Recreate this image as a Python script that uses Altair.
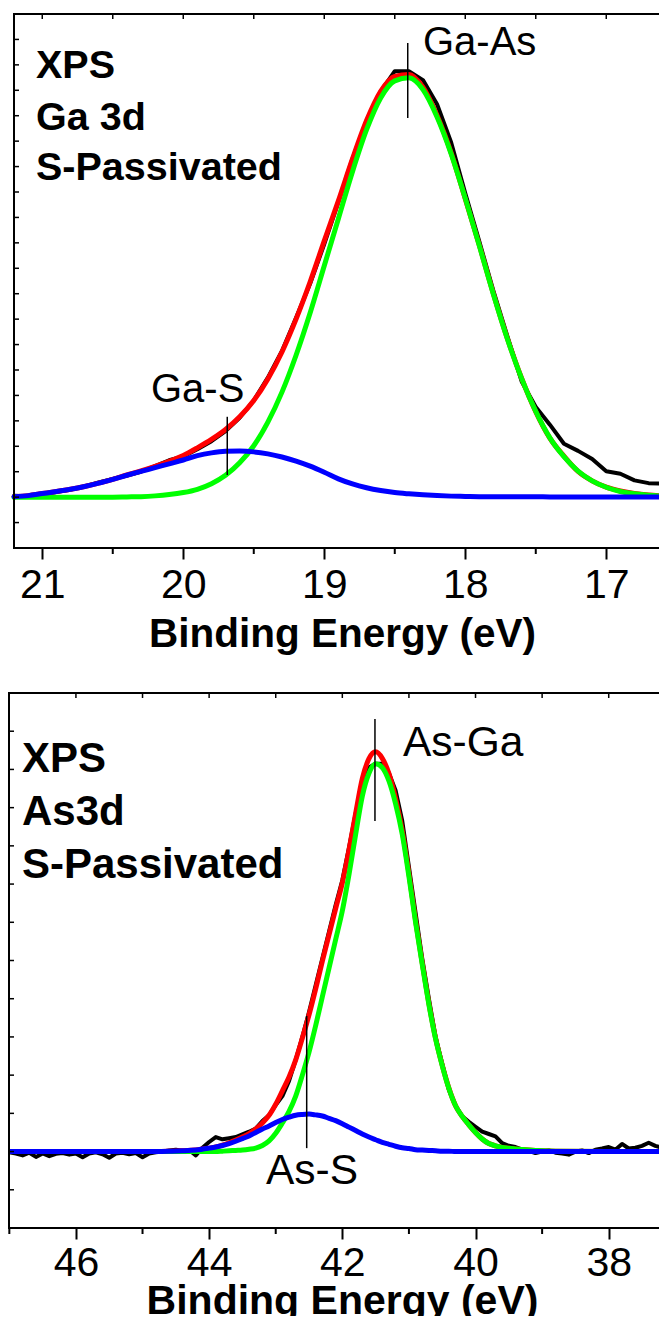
import altair as alt
import pandas as pd

FONT = "Liberation Sans"

# ---------------- Panel 1 : Ga 3d ----------------
ga_energy = [21.2, 21.1, 21.0, 20.9, 20.8, 20.7, 20.6, 20.5, 20.4, 20.3,
             20.2, 20.1, 20.0, 19.9, 19.8, 19.7, 19.6, 19.5, 19.4, 19.3,
             19.2, 19.1, 19.0, 18.9, 18.8, 18.7, 18.6, 18.5, 18.4, 18.3,
             18.2, 18.1, 18.0, 17.9, 17.8, 17.7, 17.6, 17.5, 17.4, 17.3,
             17.2, 17.1, 17.0, 16.9, 16.8, 16.7, 16.6, 16.5]
ga_data = [2.05, 2.04, 2.10, 2.20, 2.30, 2.42, 2.58, 2.72, 2.85, 3.00,
           3.22, 3.45, 3.60, 3.88, 4.20, 4.60, 5.12, 5.80, 6.70, 7.75,
           9.05, 10.40, 11.95, 13.60, 15.30, 16.80, 17.95, 18.75, 18.75, 18.40,
           17.45, 15.95, 13.95, 12.05, 10.10, 8.30, 6.55, 5.55, 4.85, 4.10,
           3.82, 3.50, 3.02, 2.92, 2.66, 2.55, 2.53, 2.52]
ga_envelope = [2.02, 2.06, 2.14, 2.22, 2.31, 2.42, 2.55, 2.70, 2.87, 3.03,
               3.21, 3.41, 3.64, 3.94, 4.27, 4.66, 5.16, 5.80, 6.65, 7.71,
               9.00, 10.47, 12.08, 13.65, 15.30, 16.81, 17.96, 18.55, 18.62, 18.12,
               17.01, 15.54, 13.73, 11.90, 9.99, 8.22, 6.67, 5.36, 4.32, 3.61,
               3.01, 2.64, 2.39, 2.24, 2.14, 2.08, 2.05, 2.03]
ga_gaas = [2.00, 2.00, 2.00, 2.00, 2.00, 2.00, 2.00, 2.00, 2.01, 2.02,
           2.05, 2.10, 2.18, 2.31, 2.53, 2.86, 3.35, 4.02, 4.95, 6.13,
           7.58, 9.25, 11.10, 12.95, 14.80, 16.45, 17.70, 18.37, 18.49, 18.03,
           16.95, 15.50, 13.75, 11.88, 9.97, 8.20, 6.66, 5.37, 4.33, 3.59,
           3.02, 2.64, 2.39, 2.22, 2.13, 2.07, 2.04, 2.02]
ga_gas = [2.02, 2.06, 2.14, 2.22, 2.31, 2.42, 2.55, 2.70, 2.86, 3.01,
          3.16, 3.31, 3.46, 3.63, 3.74, 3.80, 3.81, 3.78, 3.70, 3.58,
          3.42, 3.22, 2.98, 2.72, 2.52, 2.37, 2.26, 2.18, 2.13, 2.09,
          2.06, 2.04, 2.03, 2.02, 2.02, 2.02, 2.02, 2.02, 2.01, 2.01,
          2.01, 2.01, 2.01, 2.01, 2.01, 2.01, 2.01, 2.01]

# ---------------- Panel 2 : As 3d ----------------
as_fit_energy = [47.0, 46.0, 45.0, 44.6, 44.4, 44.2, 44.0, 43.9, 43.8, 43.7,
                 43.6, 43.5, 43.4, 43.3, 43.2, 43.1, 43.0, 42.9, 42.8, 42.7,
                 42.6, 42.5, 42.4, 42.3, 42.2, 42.1, 42.0, 41.9, 41.8, 41.7,
                 41.6, 41.5, 41.4, 41.3, 41.2, 41.1, 41.0, 40.9, 40.8, 40.7,
                 40.6, 40.5, 40.4, 40.3, 40.2, 40.1, 40.0, 39.9, 39.8, 39.7,
                 39.6, 39.5, 39.4, 39.2, 39.0, 38.8, 38.0, 37.1]
as_asga = [2.00, 2.00, 2.00, 2.00, 2.00, 2.00, 2.00, 2.00, 2.01, 2.02,
           2.03, 2.04, 2.06, 2.09, 2.16, 2.28, 2.48, 2.75, 3.05, 3.45,
           4.00, 4.60, 5.30, 6.05, 6.80, 7.55, 8.30, 9.25, 10.30, 11.30,
           11.90, 12.15, 12.05, 11.70, 11.10, 10.30, 9.20, 8.00, 6.90, 5.85,
           4.95, 4.25, 3.65, 3.20, 2.92, 2.70, 2.50, 2.33, 2.21, 2.15,
           2.11, 2.09, 2.07, 2.04, 2.02, 2.01, 2.00, 2.00]
as_ass = [2.00, 2.00, 2.00, 2.01, 2.02, 2.04, 2.09, 2.12, 2.16, 2.21,
          2.27, 2.34, 2.41, 2.50, 2.59, 2.67, 2.76, 2.84, 2.90, 2.95,
          2.97, 2.98, 2.96, 2.93, 2.87, 2.81, 2.73, 2.64, 2.55, 2.46,
          2.38, 2.31, 2.24, 2.19, 2.14, 2.10, 2.08, 2.05, 2.04, 2.03,
          2.02, 2.01, 2.01, 2.00, 2.00, 2.00, 2.00, 2.00, 2.00, 2.00,
          2.00, 2.00, 2.00, 2.00, 2.00, 2.00, 2.00, 2.00]
as_envelope = [2.00, 2.00, 2.00, 2.01, 2.02, 2.04, 2.09, 2.12, 2.17, 2.23,
               2.30, 2.38, 2.47, 2.59, 2.75, 2.95, 3.24, 3.59, 3.95, 4.40,
               4.97, 5.58, 6.26, 6.98, 7.67, 8.36, 9.03, 9.89, 10.85, 11.76,
               12.28, 12.46, 12.29, 11.89, 11.24, 10.40, 9.28, 8.05, 6.94, 5.88,
               4.97, 4.26, 3.66, 3.20, 2.92, 2.70, 2.50, 2.33, 2.21, 2.15,
               2.11, 2.09, 2.07, 2.04, 2.02, 2.01, 2.00, 2.00]
as_data_energy = [47.0, 46.9, 46.8, 46.7, 46.6, 46.5, 46.4, 46.3, 46.2, 46.1,
                  46.0, 45.9, 45.8, 45.7, 45.6, 45.5, 45.4, 45.3, 45.2, 45.1,
                  45.0, 44.9, 44.8, 44.7, 44.6, 44.5, 44.4, 44.3, 44.2, 44.1,
                  44.0, 43.9, 43.8, 43.7, 43.6, 43.5, 43.4, 43.3, 43.2, 43.1,
                  43.0, 42.9, 42.8, 42.7, 42.6, 42.5, 42.4, 42.3, 42.2, 42.1,
                  42.0, 41.9, 41.8, 41.7, 41.6, 41.5, 41.4, 41.3, 41.2, 41.1,
                  41.0, 40.9, 40.8, 40.7, 40.6, 40.5, 40.4, 40.3, 40.2, 40.1,
                  40.0, 39.9, 39.8, 39.7, 39.6, 39.5, 39.4, 39.3, 39.2, 39.1,
                  39.0, 38.9, 38.8, 38.7, 38.6, 38.5, 38.4, 38.3, 38.2, 38.1,
                  38.0, 37.9, 37.8, 37.7, 37.6, 37.5, 37.4, 37.3, 37.2, 37.1]
as_data = [1.98, 1.95, 1.90, 1.97, 1.86, 1.95, 1.88, 1.94, 1.96, 1.92,
           1.95, 1.85, 1.95, 1.98, 1.93, 1.84, 1.95, 1.97, 1.93, 1.96,
           1.85, 1.95, 1.98, 2.00, 2.03, 2.05, 2.02, 2.04, 1.90, 2.10,
           2.25, 2.38, 2.32, 2.35, 2.38, 2.45, 2.52, 2.60, 2.80, 2.95,
           3.22, 3.45, 3.85, 4.40, 5.00, 5.65, 6.35, 7.05, 7.75, 8.45,
           9.10, 9.95, 10.85, 11.60, 12.05, 12.15, 12.15, 11.90, 11.45, 10.65,
           9.45, 8.25, 7.05, 6.00, 5.00, 4.30, 3.62, 3.20, 2.92, 2.78,
           2.65, 2.52, 2.46, 2.40, 2.22, 2.15, 2.12, 2.05, 2.02, 1.96,
           2.00, 2.03, 1.97, 1.95, 1.92, 2.00, 2.03, 1.96, 2.05, 2.08,
           2.12, 2.05, 2.20, 2.08, 2.10, 2.15, 2.23, 2.15, 2.10, 2.08]

# ---------------- ticks ----------------
ga_x_ticks = [17, 18, 19, 20, 21]
ga_x_minor = [17.5, 18.5, 19.5, 20.5]
ga_top_ticks = [17, 17.5, 18, 18.5, 19, 19.5, 20, 20.5, 21]
ga_y_ticks = [1, 2, 3, 4, 5, 6, 7, 8, 9, 10, 11, 12, 13, 14, 15, 16, 17, 18, 19, 20]
as_x_ticks = [38, 40, 42, 44, 46]
as_x_minor = [39, 41, 43, 45, 47]
as_top_ticks = [38, 39, 40, 41, 42, 43, 44, 45, 46]
as_y_ticks = [1, 2, 3, 4, 5, 6, 7, 8, 9, 10, 11, 12, 13]

# ---------------- peak markers / labels ----------------
ga_peak_label = ["Ga-As", "Ga-S"]
ga_peak_pos = [18.408, 19.688]
ga_peak_lo = [16.91, 2.87]
ga_peak_hi = [19.86, 5.16]
ga_text_x = [18.30, 20.229]
ga_text_y = [19.39, 5.75]

as_peak_label = ["As-Ga", "As-S"]
as_peak_pos = [41.51, 42.535]
as_peak_lo = [10.65, 2.09]
as_peak_hi = [13.32, 5.55]
as_text_x = [41.09, 43.146]
as_text_y = [12.36, 1.15]

ga_notes = ["XPS", "Ga 3d", "S-Passivated"]
as_notes = ["XPS", "As3d", "S-Passivated"]

# the page adds an 8px margin on every side: a 651 x 1308 canvas fills 667 x 1324
PANEL_W = 651
SVG_H = 1308
PAD_TOP = 6


def panel(fit_e, envelope, main, minor_peak, data_e, data_v,
          xdom, ydom, W, H, xticks, xminor, topticks, yticks,
          plabel, ppos, plo, phi, tx, ty, notes, note_x, note_y,
          fs_label, fs_title, fs_note, fs_peak, frame_x, label_pad, title_pad):
    xs = alt.Scale(domain=xdom, reverse=True, nice=False, zero=False)
    ys = alt.Scale(domain=ydom, nice=False, zero=False)
    xaxis = alt.Axis(values=xticks, format="d", title="Binding Energy (eV)",
                     domain=False, grid=False, ticks=True, tickSize=11,
                     tickWidth=2, tickColor="black", labelFont=FONT,
                     labelFontSize=fs_label, labelColor="black",
                     labelPadding=label_pad, labelFlush=False, labelOverlap=False,
                     titleFont=FONT, titleFontSize=fs_title, titleFontWeight="bold",
                     titleColor="black", titlePadding=title_pad, titleX=334)

    def X(f):
        return alt.X(f, type="quantitative", scale=xs, axis=xaxis)

    def Y(f):
        return alt.Y(f, type="quantitative", scale=ys, axis=None)

    fits = pd.DataFrame({"E": fit_e, "env": envelope, "main": main, "minor": minor_peak})
    meas = pd.DataFrame({"E": data_e, "v": data_v})
    one = alt.Data(values=[{"k": 1}])

    layers = []
    layers.append(alt.Chart(meas).mark_line(color="black", strokeWidth=4, clip=True,
                                            strokeJoin="round", strokeCap="round")
                  .encode(x=X("E"), y=Y("v")))
    for col, colr, sw in [("env", "#ff0000", 5), ("main", "#00ff00", 5), ("minor", "#0000ff", 5)]:
        layers.append(alt.Chart(fits).mark_line(color=colr, strokeWidth=sw, clip=True,
                                                interpolate="monotone",
                                                strokeJoin="round", strokeCap="round")
                      .encode(x=X("E"), y=Y(col)))

    # frame (left, top, bottom; the right side lies outside the picture)
    layers.append(alt.Chart(one).mark_rule(color="black", strokeWidth=2)
                  .encode(x=alt.value(frame_x), y=alt.value(0), y2=alt.value(H)))
    layers.append(alt.Chart(one).mark_rule(color="black", strokeWidth=2)
                  .encode(x=alt.value(frame_x - 1), x2=alt.value(W), y=alt.value(0)))
    layers.append(alt.Chart(one).mark_rule(color="black", strokeWidth=2)
                  .encode(x=alt.value(frame_x - 1), x2=alt.value(W), y=alt.value(H)))

    # ticks
    layers.append(alt.Chart(pd.DataFrame({"t": xminor})).mark_rule(color="black", strokeWidth=2)
                  .encode(x=X("t"), y=alt.value(H), y2=alt.value(H + 6)))
    layers.append(alt.Chart(pd.DataFrame({"t": topticks})).mark_rule(color="black", strokeWidth=1.5)
                  .encode(x=X("t"), y=alt.value(0), y2=alt.value(5)))
    layers.append(alt.Chart(pd.DataFrame({"t": yticks})).mark_rule(color="black", strokeWidth=1.5)
                  .encode(y=Y("t"), x=alt.value(frame_x), x2=alt.value(frame_x + 5)))

    # peak markers and labels
    pk = pd.DataFrame({"label": plabel, "pos": ppos, "lo": plo, "hi": phi, "tx": tx, "ty": ty})
    layers.append(alt.Chart(pk).mark_rule(color="black", strokeWidth=1.5)
                  .encode(x=X("pos"), y=Y("lo"), y2=alt.Y2("hi")))
    layers.append(alt.Chart(pk).mark_text(font=FONT, fontSize=fs_peak, align="left",
                                          baseline="alphabetic", color="black")
                  .encode(x=X("tx"), y=Y("ty"), text="label:N"))

    # panel annotation
    for txt, yy in zip(notes, note_y):
        layers.append(alt.Chart(one).mark_text(font=FONT, fontSize=fs_note, fontWeight="bold",
                                               align="left", baseline="alphabetic",
                                               color="black", text=txt)
                      .encode(x=alt.value(note_x), y=alt.value(yy)))

    return alt.layer(*layers).properties(width=W, height=H)


top = panel(ga_energy, ga_envelope, ga_gaas, ga_gas, ga_energy, ga_data,
            [16.626, 21.243], [0, 21], PANEL_W, 534, ga_x_ticks, ga_x_minor, ga_top_ticks, ga_y_ticks,
            ga_peak_label, ga_peak_pos, ga_peak_lo, ga_peak_hi, ga_text_x, ga_text_y,
            ga_notes, 28, [64, 116, 166],
            41, 40.5, 39.5, 40, 6, 6, 9)

bottom = panel(as_fit_energy, as_envelope, as_asga, as_ass, as_data_energy, as_data,
               [37.245, 47.02], [0, 14], PANEL_W, 535, as_x_ticks, as_x_minor, as_top_ticks, as_y_ticks,
               as_peak_label, as_peak_pos, as_peak_lo, as_peak_hi, as_text_x, as_text_y,
               as_notes, 14, [79, 132, 185],
               41, 41, 42, 42.5, 1, 4, -2)

# fixed-size canvas (no automatic resizing) so the page exactly fills the window
chart = (alt.vconcat(top, bottom, spacing=37)
         .properties(autosize=alt.AutoSizeParams(type="none"),
                     padding={"left": 0, "top": PAD_TOP, "right": 0, "bottom": SVG_H - PAD_TOP},
                     background="white")
         .configure_view(stroke=None))

chart.save("out.html", embed_options={"renderer": "svg", "actions": False})
